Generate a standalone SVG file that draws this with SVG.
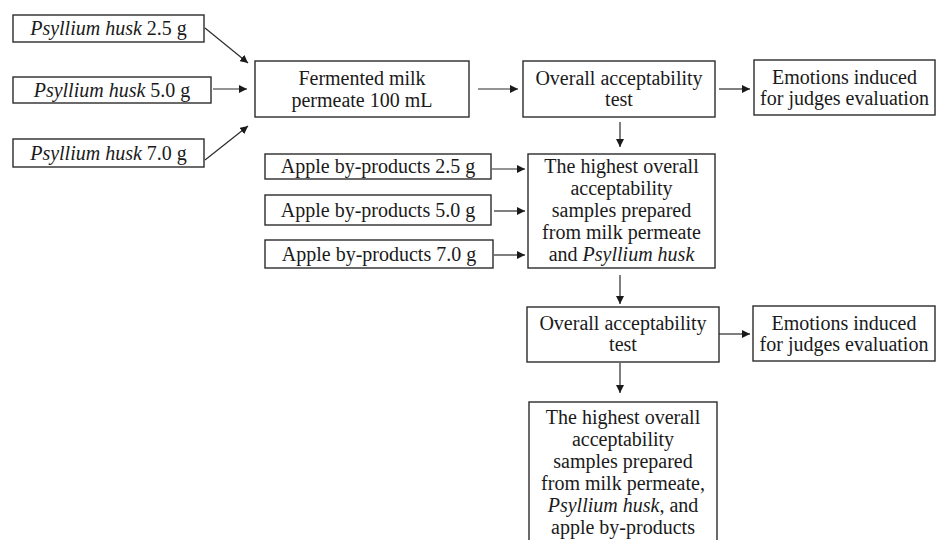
<svg xmlns="http://www.w3.org/2000/svg" width="936" height="540" viewBox="0 0 936 540">
<style>
rect{fill:#fff;stroke:#2b2b2b;stroke-width:1.4}
text{font-family:"Liberation Serif","Times New Roman",serif;font-size:20px;fill:#1a1a1a;text-anchor:middle}
.c line{stroke:#2b2b2b;stroke-width:1.2;fill:none}
</style>
<defs>
<marker id="ah" viewBox="0 0 10 10" refX="10" refY="5" markerWidth="8" markerHeight="8" markerUnits="userSpaceOnUse" orient="auto"><path d="M0,0L10,5L0,10Z" fill="#1a1a1a"/></marker>
</defs>
<rect width="936" height="540" style="fill:#fff;stroke:none"/>
<g id="ph25"><rect x="13" y="15" width="191" height="27"/><text x="108.5" y="34.5"><tspan font-style="italic">Psyllium husk</tspan> 2.5 g</text></g>
<g id="ph50"><rect x="13" y="77" width="198" height="26"/><text x="112" y="96.5"><tspan font-style="italic">Psyllium husk</tspan> 5.0 g</text></g>
<g id="ph70"><rect x="13" y="139" width="191" height="28"/><text x="108.5" y="159.5"><tspan font-style="italic">Psyllium husk</tspan> 7.0 g</text></g>
<g id="ferm"><rect x="255" y="61" width="214" height="56"/><text x="362" y="85">Fermented milk</text><text x="362" y="107">permeate 100 mL</text></g>
<g id="oat1"><rect x="523" y="61" width="192" height="56"/><text x="619" y="85">Overall acceptability</text><text x="619" y="106">test</text></g>
<g id="emo1"><rect x="754" y="60" width="181" height="55"/><text x="844.5" y="84">Emotions induced</text><text x="844.5" y="105">for judges evaluation</text></g>
<g id="ab25"><rect x="265" y="154" width="226" height="25"/><text x="378" y="173">Apple by-products 2.5 g</text></g>
<g id="ab50"><rect x="265" y="195" width="226" height="30"/><text x="378" y="217">Apple by-products 5.0 g</text></g>
<g id="ab70"><rect x="265" y="240" width="228" height="28"/><text x="379" y="261">Apple by-products 7.0 g</text></g>
<g id="high1"><rect x="528" y="154" width="187" height="114"/>
<text x="621.5" y="173">The highest overall</text>
<text x="621.5" y="195">acceptability</text>
<text x="621.5" y="217">samples prepared</text>
<text x="621.5" y="239">from milk permeate</text>
<text x="621.5" y="261">and <tspan font-style="italic">Psyllium husk</tspan></text></g>
<g id="oat2"><rect x="527" y="307" width="192" height="55"/><text x="623" y="330">Overall acceptability</text><text x="623" y="351">test</text></g>
<g id="emo2"><rect x="753" y="306" width="182" height="55"/><text x="844" y="330">Emotions induced</text><text x="844" y="351">for judges evaluation</text></g>
<g id="high2"><rect x="529" y="402" width="188" height="145"/>
<text x="623" y="424">The highest overall</text>
<text x="623" y="446">acceptability</text>
<text x="623" y="468">samples prepared</text>
<text x="623" y="490">from milk permeate,</text>
<text x="623" y="512"><tspan font-style="italic">Psyllium husk</tspan>, and</text>
<text x="623" y="534">apple by-products</text></g>
<g class="c" id="connectors">
<line x1="205" y1="28" x2="248" y2="63" marker-end="url(#ah)"/>
<line x1="213" y1="89" x2="247" y2="89" marker-end="url(#ah)"/>
<line x1="205" y1="160" x2="248" y2="126" marker-end="url(#ah)"/>
<line x1="478" y1="89" x2="518" y2="89" marker-end="url(#ah)"/>
<line x1="719" y1="89" x2="750" y2="89" marker-end="url(#ah)"/>
<line x1="620" y1="122" x2="620" y2="147" marker-end="url(#ah)"/>
<line x1="492" y1="169" x2="525" y2="169" marker-end="url(#ah)"/>
<line x1="494" y1="211" x2="525" y2="211" marker-end="url(#ah)"/>
<line x1="494" y1="255" x2="525" y2="255" marker-end="url(#ah)"/>
<line x1="620" y1="275" x2="620" y2="304" marker-end="url(#ah)"/>
<line x1="719" y1="334" x2="750" y2="334" marker-end="url(#ah)"/>
<line x1="620" y1="363" x2="620" y2="393" marker-end="url(#ah)"/>
</g>
</svg>
